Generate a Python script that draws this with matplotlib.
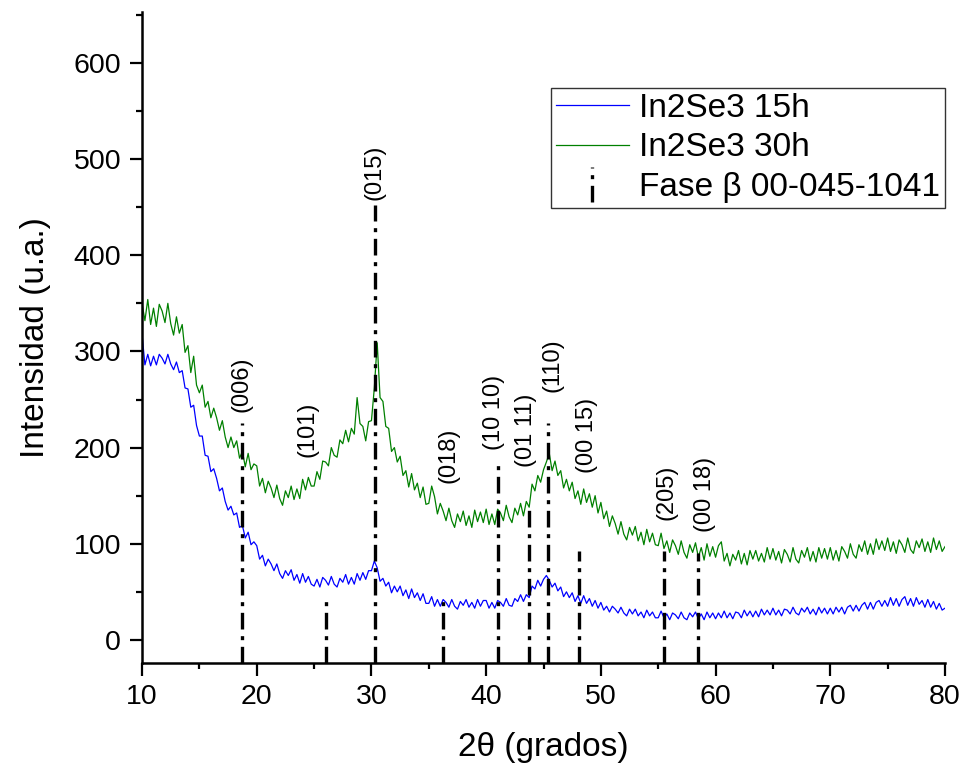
import numpy as np
import matplotlib
matplotlib.use("Agg")
import matplotlib.pyplot as plt
from matplotlib.lines import Line2D
from matplotlib.legend_handler import HandlerBase
from matplotlib.ticker import MultipleLocator

plt.rcParams['font.family'] = ['Liberation Sans', 'DejaVu Sans']

# 2theta grid, 0.25 deg steps from 10 to 80
two_theta = np.arange(10, 80.001, 0.25)

# In2Se3 15h (blue)
int_15h = [
    318, 286, 297, 285, 295, 286, 297, 293, 287, 297, 287, 281, 289, 278, 280, 262, 261, 242, 244, 223,
    212, 212, 192, 191, 175, 178, 168, 155, 158, 144, 135, 139, 130, 132, 117, 119, 106, 112, 99, 102,
    98, 84, 88, 77, 84, 79, 72, 79, 69, 64, 72, 67, 73, 62, 68, 59, 69, 60, 66, 58,
    56, 63, 55, 65, 62, 57, 66, 58, 55, 64, 60, 68, 58, 65, 58, 69, 62, 70, 63, 72,
    72, 82, 75, 61, 64, 56, 60, 49, 56, 50, 56, 46, 52, 43, 53, 44, 49, 41, 48, 38,
    38, 45, 35, 42, 35, 42, 39, 34, 42, 35, 32, 40, 36, 42, 34, 39, 33, 42, 35, 41,
    41, 33, 39, 33, 41, 39, 35, 43, 36, 35, 43, 40, 47, 40, 47, 44, 56, 53, 62, 56,
    63, 67, 62, 55, 59, 51, 55, 45, 50, 44, 49, 40, 46, 38, 46, 38, 43, 35, 41, 33,
    39, 31, 35, 29, 35, 32, 28, 34, 28, 25, 32, 27, 32, 25, 29, 23, 31, 25, 29, 23,
    23, 30, 23, 27, 21, 28, 26, 22, 29, 23, 21, 28, 24, 29, 22, 27, 21, 29, 23, 28,
    22, 28, 23, 30, 23, 28, 22, 29, 28, 23, 31, 25, 30, 24, 30, 24, 32, 26, 31, 26,
    33, 26, 31, 25, 32, 31, 27, 34, 28, 26, 33, 29, 34, 27, 32, 26, 34, 28, 33, 27,
    33, 27, 34, 29, 34, 27, 34, 36, 30, 36, 30, 36, 39, 32, 39, 32, 39, 41, 35, 41,
    35, 44, 36, 43, 35, 42, 45, 36, 43, 35, 44, 37, 41, 34, 42, 34, 40, 32, 38, 31,
    33,
]

# In2Se3 30h (green)
int_30h = [
    350, 332, 354, 328, 345, 326, 349, 342, 330, 350, 329, 317, 336, 319, 328, 299, 306, 278, 295, 265,
    257, 265, 242, 248, 231, 241, 231, 218, 228, 211, 200, 211, 200, 207, 189, 196, 180, 194, 177, 183,
    181, 160, 168, 153, 165, 158, 148, 161, 147, 140, 155, 148, 160, 146, 157, 147, 167, 156, 169, 160,
    160, 175, 167, 186, 185, 181, 200, 192, 190, 208, 204, 218, 206, 220, 214, 252, 225, 222, 207, 227,
    228, 262, 309, 252, 248, 222, 220, 196, 200, 185, 191, 171, 176, 159, 173, 156, 163, 148, 159, 141,
    142, 160, 149, 131, 142, 134, 124, 137, 124, 117, 131, 123, 134, 119, 129, 117, 135, 123, 133, 122,
    136, 120, 131, 120, 136, 132, 124, 140, 128, 122, 137, 130, 142, 129, 144, 138, 162, 155, 171, 164,
    177, 185, 194, 176, 186, 171, 176, 158, 167, 155, 164, 147, 155, 141, 157, 143, 152, 138, 150, 132,
    143, 126, 134, 118, 129, 121, 110, 123, 110, 104, 117, 109, 118, 103, 112, 99, 115, 102, 111, 99,
    98, 111, 95, 103, 91, 104, 98, 89, 103, 91, 85, 99, 91, 101, 86, 96, 83, 100, 87, 97,
    86, 98, 102, 82, 90, 77, 89, 83, 93, 79, 90, 78, 93, 84, 93, 82, 90, 81, 96, 84,
    95, 83, 92, 80, 94, 89, 81, 96, 84, 80, 93, 86, 96, 82, 92, 81, 96, 85, 95, 84,
    96, 83, 93, 82, 97, 92, 85, 100, 89, 85, 99, 92, 103, 89, 100, 89, 105, 94, 103, 93,
    106, 92, 102, 90, 104, 99, 91, 106, 94, 90, 103, 96, 105, 92, 102, 91, 106, 94, 103, 92,
    97,
]

# Reference reflections, phase beta 00-045-1041
peak_pos = [18.75, 26.0, 30.3, 36.25, 41.05, 43.75, 45.4, 48.1, 55.5, 58.5]
peak_top = [226, 47, 452, 47, 182, 137, 226, 92, 92, 90]
peak_names = ['(006)', '(101)', '(015)', '(018)', '(10 10)', '(01 11)',
              '(110)', '(00 15)', '(205)', '(00 18)']
label_x = [18.7, 24.4, 30.3, 36.7, 40.7, 43.5, 45.8, 48.8, 55.7, 59.1]
label_y = [237, 190, 457, 163, 198, 180, 258, 174, 125, 112]


class HandlerVLine(HandlerBase):
    def create_artists(self, legend, orig_handle, xdescent, ydescent,
                       width, height, fontsize, trans):
        x = width / 2 - xdescent
        line = Line2D([x, x], [-ydescent - 0.25 * height, height * 1.25 - ydescent])
        line.update_from(orig_handle)
        line.set_transform(trans)
        return [line]


fig = plt.figure(figsize=(9.63, 7.67), dpi=100)
ax = fig.add_axes([0.1475, 0.1356, 0.8338, 0.8488])
ymin, ymax = -24, 653

l1, = ax.plot(two_theta, int_15h, color='#0000ff', lw=0.9, label='In2Se3 15h')
l2, = ax.plot(two_theta, int_30h, color='#008000', lw=0.9, label='In2Se3 30h')

dash = (0, (5, 2, 1.2, 2))
ax.vlines(peak_pos, ymin, peak_top, colors='black', linewidth=2.4, linestyles=[dash])
for xp, yp, name in zip(label_x, label_y, peak_names):
    ax.text(xp, yp, name, rotation=90, ha='center', va='bottom', fontsize=17)

ref = Line2D([], [], color='black', linewidth=2.4, linestyle=dash)

ax.set_xlim(10, 80)
ax.set_ylim(ymin, ymax)
ax.xaxis.set_major_locator(MultipleLocator(10))
ax.xaxis.set_minor_locator(MultipleLocator(5))
ax.yaxis.set_major_locator(MultipleLocator(100))
ax.yaxis.set_minor_locator(MultipleLocator(50))
ax.spines['top'].set_visible(False)
ax.spines['right'].set_visible(False)
for s in ['left', 'bottom']:
    ax.spines[s].set_linewidth(1.8)
ax.tick_params(which='major', length=9, width=1.6, labelsize=20.5, direction='out', pad=6)
ax.tick_params(which='minor', length=4.5, width=1.6, direction='out')

ax.set_xlabel('2θ (grados)', fontsize=24, labelpad=16)
ax.set_ylabel('Intensidad (u.a.)', fontsize=24, labelpad=16)

leg = ax.legend([l1, l2, ref], ['In2Se3 15h', 'In2Se3 30h', 'Fase β 00-045-1041'],
                handler_map={ref: HandlerVLine()},
                loc='upper right', bbox_to_anchor=(1.0, 0.883), borderaxespad=0,
                fontsize=24, frameon=True, fancybox=False, handlelength=2.2,
                handletextpad=0.3, labelspacing=0.25, borderpad=0.15)
leg.get_frame().set_edgecolor('black')
leg.get_frame().set_linewidth(1.0)

fig.savefig('out.png', dpi=100)
